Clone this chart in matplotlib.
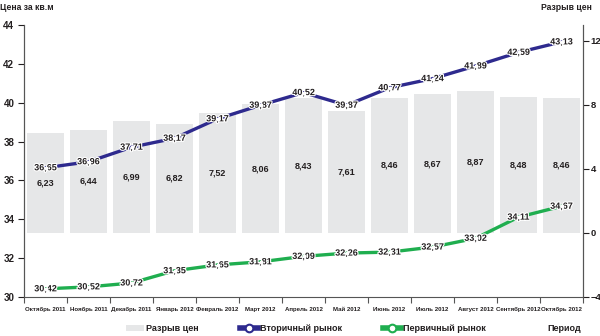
import matplotlib
matplotlib.use("Agg")
import matplotlib.pyplot as plt
import matplotlib.patheffects as pe
from matplotlib.lines import Line2D
from matplotlib.patches import Patch
import numpy as np

categories = ["Октябрь 2011", "Ноябрь 2011", "Декабрь 2011", "Январь 2012",
              "Февраль 2012", "Март 2012", "Апрель 2012", "Май 2012",
              "Июнь 2012", "Июль 2012", "Август 2012", "Сентябрь 2012",
              "Октябрь 2012"]
secondary = [36.65, 36.96, 37.71, 38.17, 39.17, 39.87, 40.52, 39.87, 40.77,
             41.24, 41.89, 42.59, 43.13]
primary = [30.42, 30.52, 30.72, 31.35, 31.65, 31.81, 32.09, 32.26, 32.31,
           32.57, 33.02, 34.11, 34.67]
gap = [6.23, 6.44, 6.99, 6.82, 7.52, 8.06, 8.43, 7.61, 8.46, 8.67, 8.87,
       8.48, 8.46]

FAM = ["Liberation Sans", "DejaVu Sans"]
plt.rcParams["font.family"] = FAM
plt.rcParams["font.weight"] = "bold"
TXT = "#231f20"
BLUE = "#2e2a8e"
GREEN = "#1fae4f"
BARC = "#e6e7e8"

def fmt(v):
    return f"{v:.2f}".replace(".", ",")

fig = plt.figure(figsize=(6.0, 3.36), dpi=100)
ax = fig.add_axes([0.04, 0.1161, 0.9317, 0.8095])
ax2 = ax.twinx()
ax.set_zorder(ax2.get_zorder() + 1)
ax.patch.set_visible(False)

x = np.arange(len(categories))

# bars on right axis
ax2.bar(x, gap, width=0.88, color=BARC, zorder=1)
for xi, g in zip(x, gap):
    ax2.text(xi, g / 2, fmt(g), ha="center", va="center", fontsize=6.5,
             color=TXT, fontweight="bold")
ax2.set_ylim(-4, 13)
ax2.set_yticks([-4, 0, 4, 8, 12])
ax2.tick_params(axis="y", direction="out", length=4, width=0.8,
                labelsize=6.8, colors=TXT, pad=1.5)

# lines on left axis
halo = [pe.withStroke(linewidth=1.6, foreground="white")]
for vals, col in ((secondary, BLUE), (primary, GREEN)):
    ax.plot(x, vals, color=col, lw=2.4, solid_capstyle="round", zorder=3)
    for xi, v in zip(x, vals):
        ax.text(xi, v, fmt(v), ha="center", va="center", fontsize=6.5,
                color=TXT, fontweight="bold", zorder=4, path_effects=halo)
    ax.plot(x, vals, ls="none", marker="o", ms=1.8, mfc="white",
            mec="white", zorder=5)

ax.set_xlim(-0.5, len(categories) - 0.5)
ax.set_ylim(30, 44)
ax.set_yticks(range(30, 45, 2))
ax.tick_params(axis="y", direction="out", length=4, width=0.8,
               labelsize=7, colors=TXT, pad=3)
ax.set_xticks(x)
ax.set_xticklabels(categories, fontsize=4.4, color=TXT, fontweight="bold")
ax.tick_params(axis="x", which="major", length=0, pad=7)
ax.set_xticks(np.arange(-0.5, len(categories), 1.0), minor=True)
ax.tick_params(axis="x", which="minor", direction="out", length=4,
               width=0.8, color="#555555")

for a in (ax, ax2):
    a.spines["top"].set_visible(False)
    for s in ("left", "right", "bottom"):
        a.spines[s].set_color("#555555")
        a.spines[s].set_linewidth(0.8)
ax2.spines["bottom"].set_visible(False)

fig.text(0.0, 0.978, "Цена за кв.м", fontsize=6.2, color=TXT,
         fontweight="bold", ha="left", va="center")
fig.text(0.987, 0.978, "Разрыв цен", fontsize=6.2, color=TXT,
         fontweight="bold", ha="right", va="center")
fig.text(0.968, 0.021, "Период", fontsize=6.5, color=TXT,
         fontweight="bold", ha="right", va="center")

handles = [
    Patch(facecolor=BARC, edgecolor="none"),
    Line2D([0], [0], color=BLUE, lw=4, marker="o", ms=5.5, mfc="white",
           mec=BLUE, mew=1.5),
    Line2D([0], [0], color=GREEN, lw=4, marker="o", ms=5.5, mfc="white",
           mec=GREEN, mew=1.5),
]
labels = ["Разрыв цен", "Вторичный рынок", "Первичный рынок"]
fig.legend(handles, labels, loc="center", bbox_to_anchor=(0.51, 0.021),
           ncol=3, frameon=False, handlelength=2.0,
           handleheight=0.6, handletextpad=0.2, columnspacing=4.6,
           labelcolor=TXT, prop={"weight": "bold", "size": 6.5})

fig.savefig("out.png", dpi=100)
